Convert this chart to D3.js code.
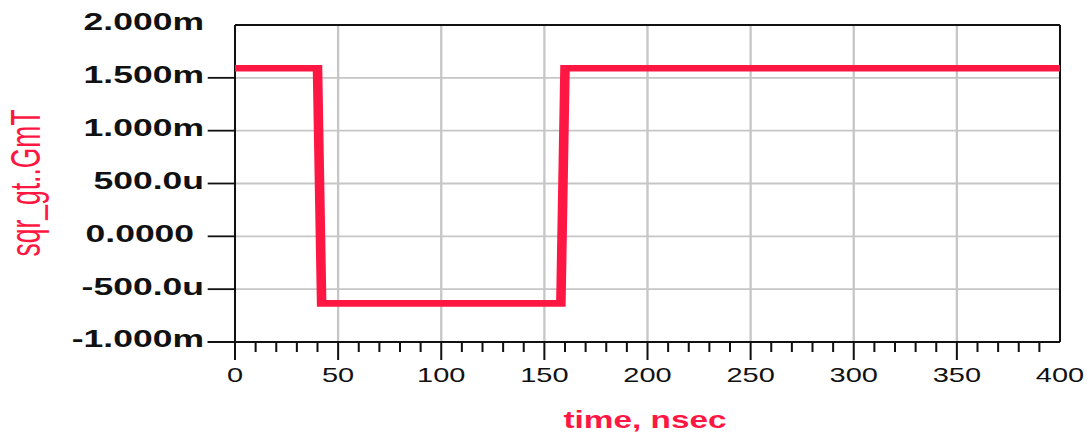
<!DOCTYPE html>
<html>
<head>
<meta charset="utf-8">
<script src="https://cdn.jsdelivr.net/npm/d3@7"></script>
<style>
  html, body { margin: 0; padding: 0; background: #fff; }
  svg { display: block; }
  text { font-family: "Liberation Sans", Arial, sans-serif; }
</style>
</head>
<body>
<svg id="chart" width="1087" height="436"></svg>
<script>
// Trace samples: time in ns, value in W
const timeNs = [0, 40, 42, 158, 160, 400];
const sqrGtGmT = [1.59e-3, 1.59e-3, -0.634e-3, -0.634e-3, 1.59e-3, 1.59e-3];

// Axis ticks and their labels
const yTickValues = [2e-3, 1.5e-3, 1e-3, 0.5e-3, 0, -0.5e-3, -1e-3];
const yTickLabels = ["2.000m", "1.500m", "1.000m", "500.0u", "0.0000\u00a0", "-500.0u", "-1.000m"];
const xTickValues = [0, 50, 100, 150, 200, 250, 300, 350, 400];
const xTickLabels = ["0", "50", "100", "150", "200", "250", "300", "350", "400"];
const xTitle = "time, nsec";
const yTitle = "sqr_gt..GmT";

// Drawing is done in a horizontally widened frame
const SX = 1.45;
const RED = "#ff1744";
const plotLeft = 235 / SX, plotRight = 1060 / SX;
const plotTop = 25, plotBottom = 342;

const x = d3.scaleLinear().domain([0, 400]).range([plotLeft, plotRight]);
const y = d3.scaleLinear().domain([-1e-3, 2e-3]).range([plotBottom, plotTop]);

const svg = d3.select("#chart");
const g = svg.append("g").attr("transform", `scale(${SX},1)`);

// grid
const gridX = xTickValues.filter(v => v > x.domain()[0] && v < x.domain()[1]);
const gridY = yTickValues.filter(v => v > y.domain()[0] && v < y.domain()[1]);
g.append("g").selectAll("line").data(gridX).join("line")
  .attr("x1", d => x(d)).attr("x2", d => x(d))
  .attr("y1", plotTop).attr("y2", plotBottom)
  .attr("stroke", "#c6c6c6").attr("stroke-width", 1.6);
g.append("g").selectAll("line").data(gridY).join("line")
  .attr("x1", plotLeft).attr("x2", plotRight)
  .attr("y1", d => y(d)).attr("y2", d => y(d))
  .attr("stroke", "#c6c6c6").attr("stroke-width", 1.8);

// frame: top and right edges
g.append("line").attr("x1", plotLeft).attr("x2", plotRight)
  .attr("y1", plotTop).attr("y2", plotTop)
  .attr("stroke", "#111").attr("stroke-width", 1.8);
g.append("line").attr("x1", plotRight).attr("x2", plotRight)
  .attr("y1", plotTop).attr("y2", plotBottom)
  .attr("stroke", "#111").attr("stroke-width", 1.4);

// y axis
const yTickStart = 207.7 / SX;
g.append("line").attr("x1", plotLeft).attr("x2", plotLeft)
  .attr("y1", plotTop).attr("y2", plotBottom)
  .attr("stroke", "#111").attr("stroke-width", 1.4);
g.append("g").selectAll("line").data(yTickValues.filter(v => v < y.domain()[1])).join("line")
  .attr("x1", yTickStart).attr("x2", plotLeft)
  .attr("y1", d => y(d)).attr("y2", d => y(d))
  .attr("stroke", "#111").attr("stroke-width", 1.8);
g.append("g").selectAll("text").data(yTickValues).join("text")
  .attr("x", 204 / SX).attr("y", d => y(d) + 5.5)
  .attr("text-anchor", "end")
  .attr("font-size", 24.5).attr("font-weight", "bold").attr("fill", "#111")
  .text((d, i) => yTickLabels[i]);

// x axis
g.append("line").attr("x1", yTickStart).attr("x2", plotRight)
  .attr("y1", plotBottom).attr("y2", plotBottom)
  .attr("stroke", "#111").attr("stroke-width", 1.8);
g.append("g").selectAll("line").data(xTickValues.filter(v => v < x.domain()[1])).join("line")
  .attr("x1", d => x(d)).attr("x2", d => x(d))
  .attr("y1", plotBottom).attr("y2", plotBottom + 18)
  .attr("stroke", "#111").attr("stroke-width", 1.4);
const minorX = d3.range(10, 400, 10).filter(v => v % 50 !== 0);
g.append("g").selectAll("line").data(minorX).join("line")
  .attr("x1", d => x(d)).attr("x2", d => x(d))
  .attr("y1", plotBottom).attr("y2", plotBottom + 10)
  .attr("stroke", "#111").attr("stroke-width", 1.4);
g.append("g").selectAll("text").data(xTickValues).join("text")
  .attr("x", d => x(d)).attr("y", 381.7)
  .attr("text-anchor", "middle")
  .attr("font-size", 20).attr("fill", "#111")
  .text((d, i) => xTickLabels[i]);

// titles
g.append("text")
  .attr("x", 645 / SX).attr("y", 428.3)
  .attr("text-anchor", "middle")
  .attr("font-size", 23).attr("font-weight", "bold").attr("fill", RED)
  .text(xTitle);
g.append("text")
  .attr("transform", `translate(${40 / SX},183) rotate(-90) scale(1,1.12)`)
  .attr("text-anchor", "middle")
  .attr("font-size", 26.5).attr("fill", RED)
  .text(yTitle);

// trace
const line = d3.line().x((d, i) => x(timeNs[i])).y(d => y(d));
g.append("path")
  .datum(sqrGtGmT)
  .attr("d", line)
  .attr("fill", "none")
  .attr("stroke", RED)
  .attr("stroke-width", 6.6)
  .attr("stroke-linejoin", "miter");
</script>
</body>
</html>
